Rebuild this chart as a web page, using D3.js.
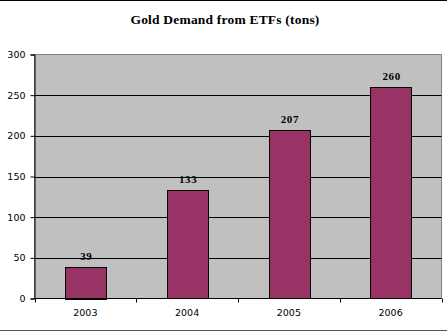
<!DOCTYPE html>
<html><head><meta charset="utf-8">
<script src="https://cdn.jsdelivr.net/npm/d3@7"></script>
<style>html,body{margin:0;padding:0;background:#fff;}svg{display:block;}</style>
</head><body>
<script>
const years = ["2003", "2004", "2005", "2006"];
const demand = [39, 133, 207, 260];
const yTicks = [0, 50, 100, 150, 200, 250, 300];
const title = "Gold Demand from ETFs (tons)";

const W = 447, H = 332;
const svg = d3.select("body").append("svg").attr("width", W).attr("height", H);

// outer frame lines
svg.append("line").attr("x1",0).attr("x2",W).attr("y1",0.5).attr("y2",0.5).attr("stroke","#000").attr("stroke-width",1);
svg.append("line").attr("x1",0).attr("x2",W).attr("y1",330.5).attr("y2",330.5).attr("stroke","#555").attr("stroke-width",1);

const L = 34.5, R = 441.5, T = 54.5, B = 298.5;
const x = d3.scaleBand().domain(years).range([L, R]).paddingInner(0.6).paddingOuter(0.3);
const xb = d3.scaleBand().domain(years).range([L, R]);
const y = d3.scaleLinear().domain([0, 300]).range([B, T]);

svg.append("rect").attr("x", L).attr("y", T).attr("width", R - L).attr("height", B - T)
  .attr("fill", "#c0c0c0").attr("stroke", "#808080").attr("stroke-width", 1);

// gridlines
svg.append("g").selectAll("line").data(yTicks.filter(d => d > 0 && d < 300)).join("line")
  .attr("x1", L).attr("x2", R).attr("y1", d => Math.round(y(d)) + 0.5).attr("y2", d => Math.round(y(d)) + 0.5)
  .attr("stroke", "#000").attr("stroke-width", 1);

// bars
svg.append("g").selectAll("rect").data(demand).join("rect")
  .attr("x", (d, i) => Math.round(x(years[i])) + 0.5)
  .attr("y", d => Math.round(y(d)) + 0.5)
  .attr("width", Math.round(x.bandwidth()))
  .attr("height", d => Math.round(B - y(d)))
  .attr("fill", "#993366").attr("stroke", "#000").attr("stroke-width", 1);

// data labels
svg.append("g").selectAll("text").data(demand).join("text")
  .attr("x", (d, i) => x(years[i]) + x.bandwidth() / 2 + 1)
  .attr("y", d => y(d) - 7)
  .attr("text-anchor", "middle")
  .attr("font-family", "Liberation Serif, serif").attr("font-weight", "bold").attr("font-size", 11)
  .attr("letter-spacing", 0.6)
  .text(d => d);

// y axis
const yAxis = d3.axisLeft(y).tickValues(yTicks).tickSize(4).tickPadding(5);
const gy = svg.append("g").attr("transform", `translate(${L},0)`).call(yAxis);
gy.select(".domain").attr("stroke", "#000");
gy.selectAll(".tick line").attr("stroke", "#000");
gy.selectAll(".tick text").attr("font-family", "DejaVu Sans, sans-serif").attr("font-size", 9.5).attr("fill", "#000");

// x axis
const xAxis = d3.axisBottom(xb).tickSize(0).tickPadding(11);
const gx = svg.append("g").attr("transform", `translate(0,${B})`).call(xAxis);
gx.select(".domain").remove();
svg.append("line").attr("x1", L).attr("x2", R).attr("y1", B).attr("y2", B).attr("stroke", "#000");
svg.append("g").selectAll("line").data(years.concat(["end"])).join("line")
  .attr("x1", (d, i) => Math.round(L + i * xb.bandwidth()) + 0.5)
  .attr("x2", (d, i) => Math.round(L + i * xb.bandwidth()) + 0.5)
  .attr("y1", B).attr("y2", B + 4).attr("stroke", "#000");
gx.selectAll(".tick text").attr("font-family", "DejaVu Sans, sans-serif").attr("font-size", 9.5).attr("fill", "#000");

// title
svg.append("text").attr("x", 225).attr("y", 24).attr("text-anchor", "middle")
  .attr("font-family", "Liberation Serif, serif").attr("font-weight", "bold").attr("font-size", 13.5)
  .attr("letter-spacing", 0.2)
  .text(title);
</script>
</body></html>
